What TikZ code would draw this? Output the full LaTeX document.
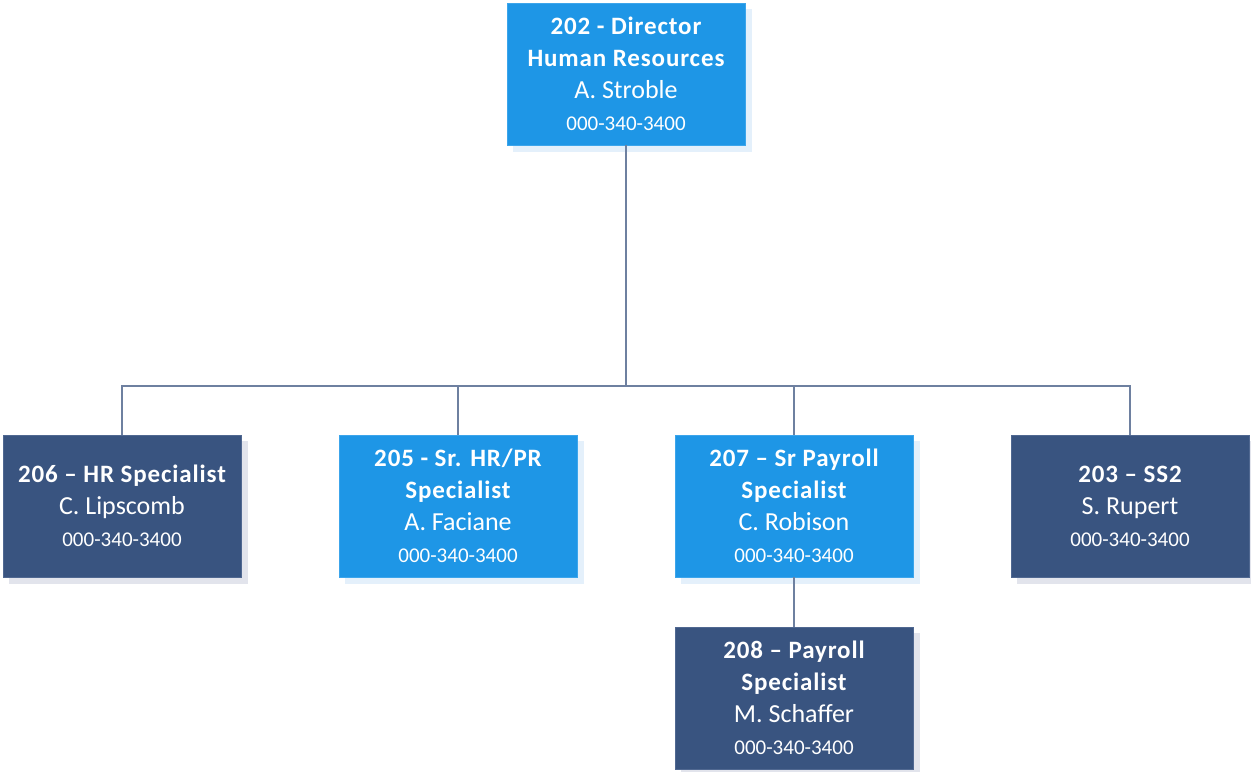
\documentclass[tikz,border=0pt]{standalone}
\usepackage{fontspec}
\setmainfont{Carlito}
\newfontfamily\titlefont[LetterSpace=3.5,Ligatures=TeX]{Carlito}
\begin{document}
\begin{tikzpicture}[x=1pt,y=-1pt,
  box/.style={minimum width=238pt,minimum height=142pt,inner sep=0pt,
    align=center,text=white,font=\fontsize{24}{32}\selectfont},
  lightbox/.style={box,fill={rgb,255:red,30;green,150;blue,230},
    draw={rgb,255:red,60;green,165;blue,235},line width=0.6pt},
  darkbox/.style={box,fill={rgb,255:red,57;green,84;blue,128},
    draw={rgb,255:red,80;green,104;blue,145},line width=0.6pt},
  lightshadow/.style={fill={rgb,255:red,228;green,240;blue,251}},
  darkshadow/.style={fill={rgb,255:red,226;green,228;blue,236}},
  link/.style={draw={rgb,255:red,110;green,128;blue,160},line width=1.3pt}]
\useasboundingbox (0,0) rectangle (1251,772);
\newcommand{\ttl}[1]{{\titlefont\bfseries\fontsize{25}{32}\selectfont #1}}
\newcommand{\nm}[1]{{\fontsize{26}{32}\selectfont #1}}
\newcommand{\ph}[1]{{\fontsize{21}{32}\selectfont #1}}
% drop shadows
\fill[lightshadow] (513,9) rectangle (752,152);
\fill[darkshadow] (9,441) rectangle (248,584);
\fill[lightshadow] (345,441) rectangle (584,584);
\fill[lightshadow] (681,441) rectangle (920,584);
\fill[darkshadow] (1017,441) rectangle (1251,584);
\fill[darkshadow] (681,633) rectangle (920,772);
% boxes
\node[lightbox] (d202) at (626,74) {\ttl{202 - Director}\\\ttl{Human Resources}\\\nm{A. Stroble}\\\ph{000-340-3400}};
\node[darkbox] (s206) at (122,506) {\ttl{206 – HR Specialist}\\\nm{C. Lipscomb}\\\ph{000-340-3400}};
\node[lightbox] (s205) at (458,506) {\ttl{205 - Sr. HR/PR}\\\ttl{Specialist}\\\nm{A. Faciane}\\\ph{000-340-3400}};
\node[lightbox] (s207) at (794,506) {\ttl{207 – Sr Payroll}\\\ttl{Specialist}\\\nm{C. Robison}\\\ph{000-340-3400}};
\node[darkbox] (s203) at (1130,506) {\ttl{203 – SS2}\\\nm{S. Rupert}\\\ph{000-340-3400}};
\node[darkbox] (s208) at (794,698) {\ttl{208 – Payroll}\\\ttl{Specialist}\\\nm{M. Schaffer}\\\ph{000-340-3400}};
% connectors
\coordinate (bus) at (626,386);
\draw[link] (d202.south) -- (bus);
\draw[link] (s206.north) |- (bus) -| (s203.north);
\draw[link] (s205.north) -- (s205.north |- bus);
\draw[link] (s207.north) -- (s207.north |- bus);
\draw[link] (s207.south) -- (s208.north);
\end{tikzpicture}
\end{document}
